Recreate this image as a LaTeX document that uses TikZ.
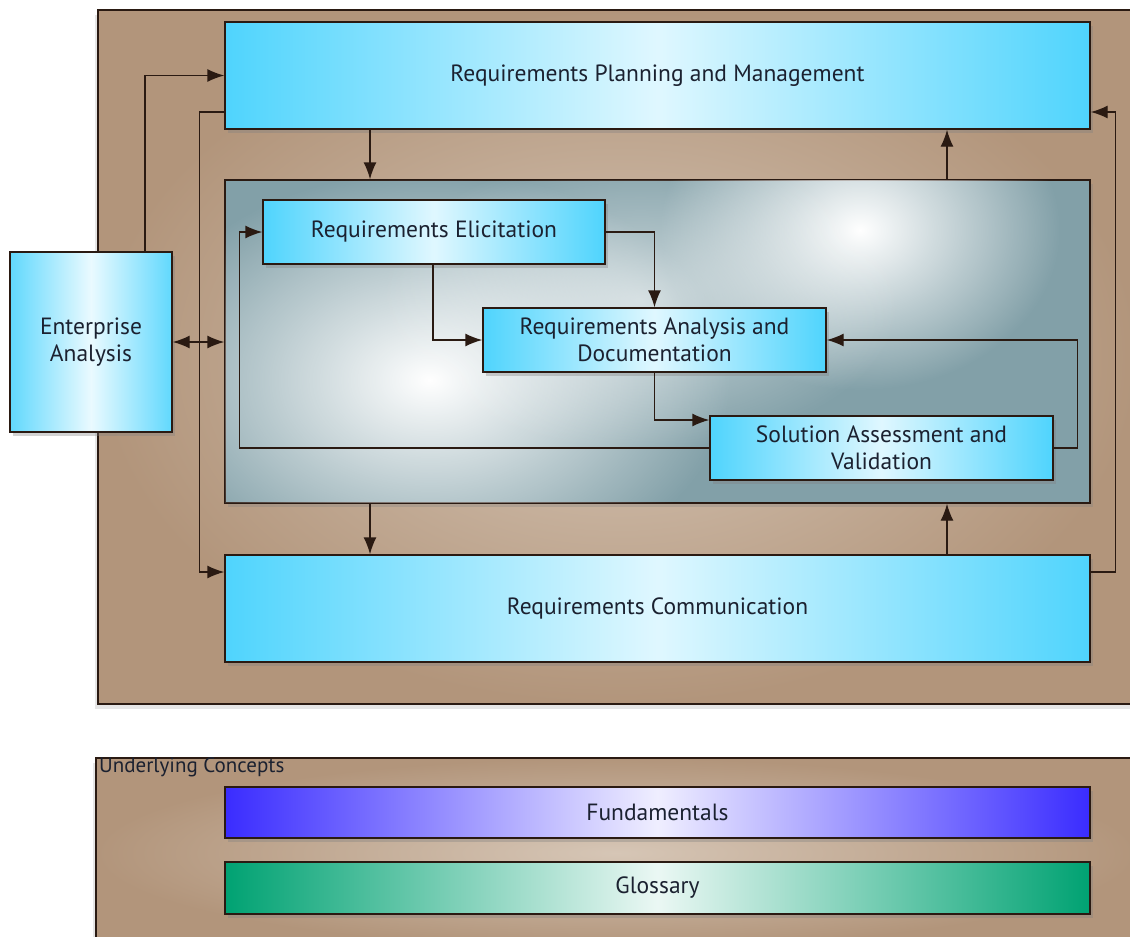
\documentclass[tikz,border=0pt]{standalone}
\usepackage{fontspec}
\setmainfont{PT Sans}
\usetikzlibrary{arrows.meta,shadows,fadings}
\tikzfading[name=spotfade, inner color=transparent!0, outer color=transparent!100]
\definecolor{cyanb}{HTML}{4FD4FD}
\definecolor{brownp}{HTML}{B2957B}
\definecolor{brownl}{HTML}{D6C6B6}
\definecolor{grayp}{HTML}{82A0A8}
\definecolor{fundb}{HTML}{3A2CFF}
\definecolor{glossg}{HTML}{00A272}
\definecolor{linec}{HTML}{2A1A12}
\definecolor{textc}{HTML}{1B2130}
\tikzset{
  panel/.style={draw=linec, line width=1.4pt, inner sep=0pt},
  bluebox/.style={draw=linec, line width=1.4pt, inner sep=0pt, align=center,
    left color=cyanb, right color=cyanb, middle color=cyanb!18, text=textc,
    font=\fontsize{23.5}{27.5}\selectfont,
    drop shadow={opacity=0.35, shadow xshift=3pt, shadow yshift=-4pt}},
  arr/.style={draw=linec, line width=1.4pt, -{Latex[length=17pt,width=13pt]}},
  arrtwo/.style={draw=linec, line width=1.4pt, {Latex[length=17pt,width=13pt]}-{Latex[length=17pt,width=13pt]}},
}
\begin{document}
\begin{tikzpicture}[x=1pt,y=-1pt]
\useasboundingbox (0,0) rectangle (1130,937);
% outer panels
\node[panel, minimum width=1040pt, minimum height=694pt, outer color=brownp, inner color=brownl,
  drop shadow={opacity=0.2, shadow xshift=-3pt, shadow yshift=-5pt}] (outer) at (618,357) {};
\node[panel, minimum width=1040pt, minimum height=190pt, outer color=brownp, inner color=brownl,
  drop shadow={opacity=0.2, shadow xshift=-3pt, shadow yshift=-5pt}] (under) at (616,853) {};
\node[anchor=north west, inner sep=0pt, text=textc, font=\fontsize{21}{24}\selectfont] (ulabel) at (99,757) {Underlying Concepts};
% inner gray panel
\node[panel, minimum width=865pt, minimum height=323pt, fill=grayp,
  drop shadow={opacity=0.3, shadow xshift=3pt, shadow yshift=-4pt}] (inner) at (657.5,341.5) {};
\begin{scope}
  \clip (inner.south west) rectangle (inner.north east);
  \fill[white, path fading=spotfade] (430,380) ellipse (300 and 210);
  \fill[white, path fading=spotfade] (860,230) ellipse (200 and 160);
  \fill[white, path fading=spotfade, opacity=0.6] (640,300) ellipse (260 and 150);
\end{scope}
\draw[linec, line width=1.4pt] (inner.south west) rectangle (inner.north east);
% blue boxes
\node[bluebox, minimum width=865pt, minimum height=107pt] (rpm) at (657.5,75.5) {Requirements Planning and Management};
\node[bluebox, minimum width=865pt, minimum height=107pt] (rc) at (657.5,608.5) {Requirements Communication};
\node[bluebox, minimum width=162pt, minimum height=180pt, left color=cyanb!90, right color=cyanb!90, middle color=cyanb!12] (ea) at (91,342) {Enterprise\\Analysis};
\node[bluebox, minimum width=342pt, minimum height=64pt] (re) at (434,232) {\raisebox{5pt}{Requirements Elicitation}};
\node[bluebox, minimum width=343pt, minimum height=64pt] (rad) at (654.5,340) {Requirements Analysis and\\Documentation};
\node[bluebox, minimum width=343pt, minimum height=64pt] (sav) at (881.5,448) {Solution Assessment and\\Validation};
% underlying concepts
\node[bluebox, minimum width=865pt, minimum height=51pt, left color=fundb, right color=fundb, middle color=fundb!8] (fund) at (657.5,812.5) {Fundamentals};
\node[bluebox, minimum width=865pt, minimum height=52pt, left color=glossg, right color=glossg, middle color=glossg!8] (gloss) at (657.5,888) {Glossary};
% connectors outside
\draw[arr] ([xshift=54pt]ea.north) |- (rpm.west);
\draw[arr] ([yshift=-36.5pt]rpm.west) -- ++(-25,0) |- ([yshift=36.5pt]rc.west);
\draw[arrtwo] (ea.east) -- (ea.east -| inner.west);
\draw[arr] ([xshift=-287.5pt]rpm.south) -- ([xshift=-287.5pt]inner.north);
\draw[arr] ([xshift=289.5pt]inner.north) -- ([xshift=289.5pt]rpm.south);
\draw[arr] ([xshift=-287.5pt]inner.south) -- ([xshift=-287.5pt]rc.north);
\draw[arr] ([xshift=289.5pt]rc.north) -- ([xshift=289.5pt]inner.south);
\draw[arr] ([yshift=36.5pt]rc.east) -- ++(25,0) |- ([yshift=-36.5pt]rpm.east);
% connectors inside
\draw[arr] (re.east) -| (rad.north);
\draw[arr] ([xshift=-1pt]re.south) |- (rad.west);
\draw[arr] (rad.south) |- ([yshift=28pt]sav.west);
\draw[arr] (sav.east) -- ++(24,0) |- (rad.east);
\draw[arr] (sav.west) -- ++(-470,0) |- (re.west);
\end{tikzpicture}
\end{document}
